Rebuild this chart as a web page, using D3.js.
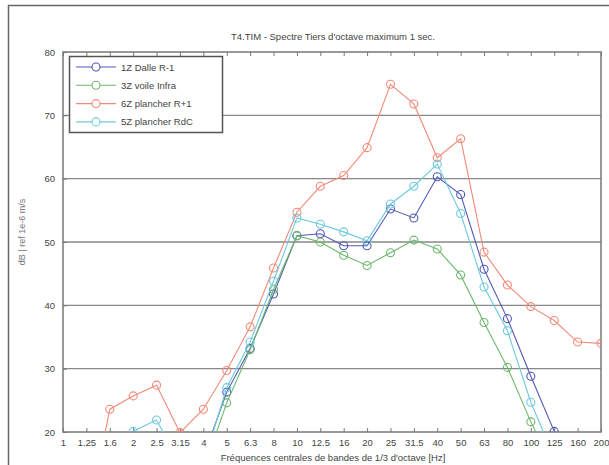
<!DOCTYPE html>
<html>
<head>
<meta charset="utf-8">
<script src="https://cdn.jsdelivr.net/npm/d3@7"></script>
<style>
  body { margin: 0; background: #fff; }
  svg text { font-family: "Liberation Sans", Arial, sans-serif; fill: #444; }
</style>
</head>
<body>
<svg id="chart" width="609" height="465"></svg>
<script>
// third-octave band centres (Hz)
const bands = ["1", "1.25", "1.6", "2", "2.5", "3.15", "4", "5", "6.3", "8", "10", "12.5",
  "16", "20", "25", "31.5", "40", "50", "63", "80", "100", "125", "160", "200"];

const yTicks = [20, 30, 40, 50, 60, 70, 80];

// values (dB), null = no point
const dalle1Z = [null, null, null, null, null, null, 16, 26.3, 33.2, 41.8, 51, 51.3,
  49.4, 49.4, 55.2, 53.8, 60.3, 57.5, 45.7, 37.9, 28.8, 20.1, null, null];
const voile3Z = [null, null, null, null, null, null, 14, 24.6, 33, 42.5, 51, 50,
  47.9, 46.3, 48.3, 50.3, 48.9, 44.8, 37.3, 30.2, 21.6, 14, null, null];
const plancher6Z = [null, 5, 23.6, 25.7, 27.4, 19.9, 23.6, 29.7, 36.6, 45.9, 54.7, 58.8,
  60.5, 64.9, 74.9, 71.8, 63.3, 66.3, 48.4, 43.2, 39.8, 37.6, 34.2, 34];
const plancher5Z = [null, null, null, 20.1, 21.9, 15, 15, 27, 34.2, 43.8, 53.8, 52.8,
  51.6, 50.2, 56, 58.8, 62.3, 54.5, 42.9, 36, 24.7, 16, null, null];

const seriesNames = ["1Z Dalle R-1", "3Z voile Infra", "6Z plancher R+1", "5Z plancher RdC"];
const seriesColors = ["#5058b4", "#6cb86c", "#f28a78", "#6ccadc"];
const seriesValues = [dalle1Z, voile3Z, plancher6Z, plancher5Z];

const svg = d3.select("#chart");
const margin = {left: 63, right: 8, top: 52, bottom: 33};
const width = 609, height = 465;

const x = d3.scalePoint().domain(bands).range([margin.left, width - margin.right]);
const y = d3.scaleLinear().domain([20, 80]).range([height - margin.bottom, margin.top]);

// figure frame
svg.append("rect")
  .attr("x", 8.5).attr("y", 5.5)
  .attr("width", 620).attr("height", 480)
  .attr("fill", "none").attr("stroke", "#666").attr("stroke-width", 1.5);

svg.append("defs").append("clipPath").attr("id", "plot")
  .append("rect")
  .attr("x", margin.left).attr("y", margin.top)
  .attr("width", width - margin.left - margin.right)
  .attr("height", height - margin.top - margin.bottom);

// horizontal grid
svg.append("g")
  .selectAll("line")
  .data(yTicks.filter(d => d > 20 && d < 80))
  .join("line")
  .attr("x1", margin.left).attr("x2", width - margin.right)
  .attr("y1", d => y(d)).attr("y2", d => y(d))
  .attr("stroke", "#888").attr("stroke-width", 1.3);

// axes
const bottomAxis = d3.axisBottom(x).tickSize(4).tickPadding(3);
const topAxis = d3.axisTop(x).tickSize(4).tickFormat("");
const leftAxis = d3.axisLeft(y).tickValues(yTicks).tickSize(4).tickPadding(4);

const gx = svg.append("g").attr("transform", `translate(0,${height - margin.bottom})`).call(bottomAxis);
gx.selectAll(".tick line").attr("y2", -4);
gx.selectAll("text").style("font-size", "9.5px");

const gt = svg.append("g").attr("transform", `translate(0,${margin.top})`).call(topAxis);
gt.selectAll(".tick line").attr("y2", 4);

const gy = svg.append("g").attr("transform", `translate(${margin.left},0)`).call(leftAxis);
gy.selectAll(".tick line").attr("x2", 4);
gy.selectAll("text").style("font-size", "9.5px");

svg.selectAll(".domain").remove();
svg.selectAll(".tick line").attr("stroke", "#777");

svg.append("rect")
  .attr("x", margin.left).attr("y", margin.top)
  .attr("width", width - margin.left - margin.right)
  .attr("height", height - margin.top - margin.bottom)
  .attr("fill", "none").attr("stroke", "#777").attr("stroke-width", 1.5);

// series
const line = d3.line()
  .defined(d => d.v !== null)
  .x(d => x(d.band))
  .y(d => y(d.v));

const plot = svg.append("g").attr("clip-path", "url(#plot)");

seriesValues.forEach((vals, i) => {
  const pts = vals.map((v, j) => ({band: bands[j], v: v}));
  plot.append("path")
    .datum(pts)
    .attr("fill", "none")
    .attr("stroke", seriesColors[i])
    .attr("stroke-width", 1.1)
    .attr("d", line);
  plot.selectAll(null)
    .data(pts.filter(d => d.v !== null))
    .join("circle")
    .attr("cx", d => x(d.band))
    .attr("cy", d => y(d.v))
    .attr("r", 4)
    .attr("fill", "none")
    .attr("stroke", seriesColors[i])
    .attr("stroke-width", 1.1);
});

// legend
const legend = svg.append("g");
legend.append("rect")
  .attr("x", 69.5).attr("y", 56.5).attr("width", 153).attr("height", 76)
  .attr("fill", "#fff").attr("stroke", "#555").attr("stroke-width", 1.5);
seriesNames.forEach((name, i) => {
  const ly = 67 + i * 18.3;
  legend.append("line")
    .attr("x1", 76).attr("x2", 116).attr("y1", ly).attr("y2", ly)
    .attr("stroke", seriesColors[i]).attr("stroke-width", 1.1);
  legend.append("circle")
    .attr("cx", 96).attr("cy", ly).attr("r", 4)
    .attr("fill", "#fff").attr("stroke", seriesColors[i]).attr("stroke-width", 1.1);
  legend.append("text")
    .attr("x", 121).attr("y", ly + 3.5)
    .style("font-size", "9.5px")
    .text(name);
});

// titles
svg.append("text")
  .attr("x", 333).attr("y", 40)
  .attr("text-anchor", "middle")
  .style("font-size", "9.5px")
  .text("T4.TIM - Spectre Tiers d'octave maximum 1 sec.");

svg.append("text")
  .attr("x", 333).attr("y", 461)
  .attr("text-anchor", "middle")
  .style("font-size", "9.5px")
  .text("Fréquences centrales de bandes de 1/3 d'octave [Hz]");

svg.append("text")
  .attr("transform", "translate(25,232) rotate(-90)")
  .attr("text-anchor", "middle")
  .style("font-size", "9px")
  .style("fill", "#777")
  .text("dB | ref 1e-6 m/s");
</script>
</body>
</html>
